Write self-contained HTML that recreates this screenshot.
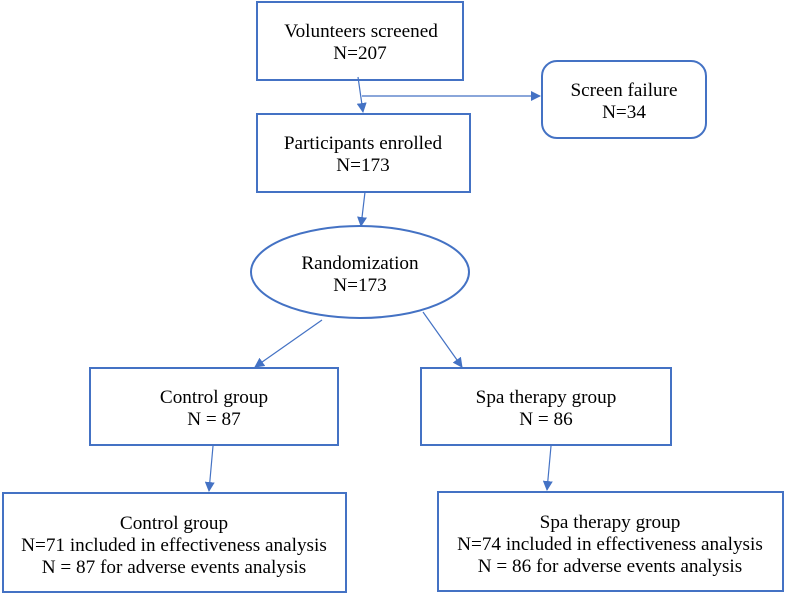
<!DOCTYPE html>
<html><head><meta charset="utf-8"><style>
body{margin:0;background:#fff}
svg{display:block}
text{font-family:"Liberation Serif",serif;font-size:19.2px;fill:#000;text-anchor:middle}
</style></head><body>
<svg width="785" height="596" viewBox="0 0 785 596" xmlns="http://www.w3.org/2000/svg">
<defs><marker id="a" markerWidth="10" markerHeight="10" refX="9" refY="5" orient="auto" markerUnits="userSpaceOnUse"><path d="M0,0 L10,5 L0,10 z" fill="#4472c4"/></marker></defs>
<g fill="none" stroke="#4472c4" stroke-width="2">
<rect x="257" y="2" width="206" height="78"/>
<rect x="542" y="61" width="164" height="77" rx="15"/>
<rect x="257" y="114" width="213" height="78"/>
<ellipse cx="360" cy="272" rx="109" ry="46"/>
<rect x="90" y="368" width="248" height="77"/>
<rect x="421" y="368" width="250" height="77"/>
<rect x="3" y="493" width="343" height="99"/>
<rect x="438" y="492" width="345" height="99"/>
</g>
<g stroke="#4472c4" stroke-width="1.2" fill="none">
<line x1="358" y1="77" x2="363" y2="112" marker-end="url(#a)"/>
<line x1="362" y1="96" x2="540" y2="96" marker-end="url(#a)"/>
<line x1="365" y1="192" x2="361" y2="226" marker-end="url(#a)"/>
<line x1="322" y1="320" x2="255" y2="367" marker-end="url(#a)"/>
<line x1="423" y1="312" x2="462" y2="367" marker-end="url(#a)"/>
<line x1="213" y1="446" x2="209" y2="491" marker-end="url(#a)"/>
<line x1="551" y1="446" x2="547" y2="490" marker-end="url(#a)"/>
</g>
<text x="361" y="37">Volunteers screened</text><text x="360" y="59">N=207</text>
<text x="624" y="96">Screen failure</text><text x="624" y="118">N=34</text>
<text x="363" y="149">Participants enrolled</text><text x="363" y="171">N=173</text>
<text x="360" y="269">Randomization</text><text x="360" y="291">N=173</text>
<text x="214" y="403">Control group</text><text x="214" y="425">N = 87</text>
<text x="546" y="403">Spa therapy group</text><text x="546" y="425">N = 86</text>
<text x="174" y="529">Control group</text><text x="174" y="551">N=71 included in effectiveness analysis</text><text x="174" y="573">N = 87 for adverse events analysis</text>
<text x="610" y="528">Spa therapy group</text><text x="610" y="550">N=74 included in effectiveness analysis</text><text x="610" y="572">N = 86 for adverse events analysis</text>
</svg>
</body></html>
